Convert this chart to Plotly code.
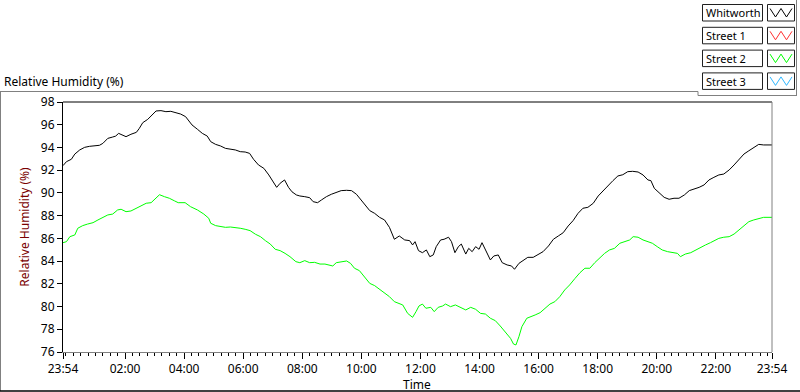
import plotly.graph_objects as go

# ---------------- data ----------------
series_names = ["Whitworth", "Street 1", "Street 2", "Street 3"]
series_colors = ["#000000", "#ff3030", "#00ff00", "#30b8ff"]

# minutes since 23:54 (start of record)
whitworth_min = [0, 7, 17, 24, 34, 44, 54, 64, 74, 81, 91, 101, 107, 113, 118, 128, 138, 149, 155, 162,
                 172, 182, 189, 199, 209, 219, 229, 239, 249, 256, 262, 273, 283, 293, 300, 310, 320, 330,
                 340, 350, 360, 370, 379, 387, 397, 408, 418, 428, 434, 441, 450, 458, 465, 474, 481, 491,
                 501, 508, 517, 525, 535, 545, 555, 565, 576, 586, 596, 606, 615, 623, 633, 643, 653, 663,
                 673, 683, 694, 704, 710, 715, 722, 730, 738, 745, 752, 758, 767, 774, 783, 789, 796, 803,
                 809, 818, 824, 831, 838, 845, 851, 859, 868, 875, 884, 892, 902, 911, 917, 926, 936, 944,
                 955, 965, 975, 986, 996, 1006, 1016, 1026, 1036, 1046, 1056, 1066, 1077, 1087, 1097, 1107,
                 1117, 1127, 1137, 1147, 1157, 1168, 1178, 1188, 1194, 1201, 1211, 1221, 1231, 1241, 1251,
                 1262, 1272, 1282, 1292, 1302, 1312, 1322, 1332, 1342, 1353, 1363, 1373, 1383, 1393, 1403,
                 1413, 1423, 1440]
whitworth_rh = [92.4, 92.75, 92.96, 93.42, 93.78, 94.01, 94.1, 94.13, 94.19, 94.36, 94.8, 94.92, 95.0, 95.24,
                95.12, 94.95, 95.16, 95.33, 95.68, 96.18, 96.47, 96.92, 97.21, 97.24, 97.15, 97.18, 97.06,
                96.94, 96.71, 96.27, 95.98, 95.6, 95.24, 95.0, 94.51, 94.27, 94.13, 93.92, 93.84, 93.78,
                93.63, 93.6, 93.48, 92.96, 92.46, 92.16, 91.58, 90.85, 90.49, 90.85, 91.14, 90.49, 90.1,
                89.82, 89.73, 89.67, 89.58, 89.23, 89.14, 89.38, 89.67, 89.88, 90.02, 90.2, 90.23, 90.2,
                89.88, 89.38, 88.85, 88.44, 88.2, 87.85, 87.62, 86.97, 85.92, 86.21, 85.86, 85.8, 85.42,
                85.71, 84.92, 84.74, 84.98, 84.39, 84.54, 85.27, 85.86, 85.92, 86.1, 85.71, 84.74, 85.27,
                85.5, 84.62, 85.12, 84.83, 85.27, 85.04, 85.62, 84.83, 84.1, 84.45, 84.54, 83.86, 83.66,
                83.57, 83.28, 83.8, 84.1, 84.33, 84.33, 84.62, 84.83, 85.33, 85.92, 86.21, 86.5, 87.09,
                87.56, 88.2, 88.65, 88.73, 89.09, 89.73, 90.2, 90.61, 91.08, 91.49, 91.6, 91.87, 91.9,
                91.84, 91.58, 91.14, 91.08, 90.4, 90.02, 89.61, 89.44, 89.53, 89.53, 89.82, 90.2, 90.32,
                90.49, 90.7, 91.14, 91.37, 91.58, 91.66, 92.02, 92.46, 92.96, 93.42, 93.71, 93.98, 94.27,
                94.22, 94.22]

street2_min = [0, 7, 14, 24, 30, 40, 50, 61, 71, 81, 91, 101, 111, 118, 128, 138, 148, 159, 169, 179, 189,
               196, 206, 216, 226, 234, 248, 259, 273, 286, 296, 300, 310, 320, 330, 340, 350, 360, 370, 380,
               391, 401, 411, 421, 431, 441, 451, 461, 473, 481, 491, 501, 511, 522, 532, 538, 548, 555, 565,
               576, 584, 592, 602, 612, 623, 633, 643, 653, 663, 673, 683, 690, 700, 710, 717, 723, 730, 737,
               747, 754, 762, 771, 777, 787, 797, 808, 818, 828, 838, 848, 858, 868, 878, 888, 898, 909, 915,
               920, 926, 932, 942, 951, 959, 969, 979, 989, 999, 1009, 1019, 1029, 1040, 1050, 1060, 1070,
               1080, 1090, 1100, 1110, 1120, 1131, 1141, 1151, 1158, 1168, 1178, 1188, 1197, 1207, 1217, 1228,
               1238, 1248, 1254, 1264, 1275, 1285, 1295, 1305, 1315, 1325, 1332, 1342, 1353, 1363, 1373, 1383,
               1393, 1403, 1413, 1423, 1440]
street2_rh = [85.62, 85.71, 86.15, 86.3, 86.89, 87.12, 87.26, 87.38, 87.62, 87.85, 88.06, 88.14, 88.5, 88.56,
              88.35, 88.41, 88.65, 88.85, 89.09, 89.14, 89.53, 89.84, 89.67, 89.53, 89.31, 89.14, 89.14,
              88.79, 88.5, 88.14, 87.77, 87.33, 87.12, 87.03, 86.97, 87.0, 86.97, 86.89, 86.8, 86.68, 86.36,
              86.15, 85.8, 85.5, 85.04, 84.92, 84.68, 84.39, 83.95, 83.86, 84.04, 83.86, 83.89, 83.74, 83.74,
              83.66, 83.57, 83.86, 83.95, 84.01, 83.8, 83.37, 83.16, 82.63, 82.04, 81.84, 81.52, 81.22, 80.87,
              80.43, 80.22, 80.14, 79.4, 79.05, 79.55, 80.05, 80.22, 79.85, 79.93, 79.55, 79.93, 80.05, 80.22,
              79.99, 80.14, 79.93, 79.7, 79.93, 79.76, 79.4, 79.34, 78.97, 78.76, 78.29, 77.79, 77.2, 76.7,
              76.62, 77.35, 78.23, 78.97, 79.11, 79.26, 79.46, 79.85, 80.22, 80.43, 80.87, 81.46, 81.9, 82.48,
              82.98, 83.37, 83.37, 83.86, 84.25, 84.68, 84.98, 85.12, 85.57, 85.71, 85.86, 86.15, 86.1, 85.86,
              85.71, 85.57, 85.27, 84.98, 84.83, 84.74, 84.68, 84.39, 84.62, 84.74, 84.98, 85.21, 85.42, 85.62,
              85.86, 86.0, 86.1, 86.15, 86.38, 86.74, 87.18, 87.47, 87.62, 87.77, 87.85, 87.85]

x_tick_min = [0, 126, 246, 366, 486, 606, 726, 846, 966, 1086, 1206, 1326, 1440]
x_tick_labels = ["23:54", "02:00", "04:00", "06:00", "08:00", "10:00", "12:00",
                 "14:00", "16:00", "18:00", "20:00", "22:00", "23:54"]
x_minor_min = list(range(6, 1440, 15))
y_ticks = [76, 78, 80, 82, 84, 86, 88, 90, 92, 94, 96, 98]

# ---------------- layout geometry ----------------
W, H = 800, 392
L, R, T, B = 63, 28, 102, 40
PW, PH = W - L - R, H - T - B


def px(x):
    return (x - L) / PW


def py(y):
    return 1 - (y - T) / PH


FONT = "Noto Sans"

fig = go.Figure()
fig.add_trace(go.Scatter(x=whitworth_min, y=whitworth_rh, mode="lines", name=series_names[0],
                         line=dict(color=series_colors[0], width=1), showlegend=False))
fig.add_trace(go.Scatter(x=street2_min, y=street2_rh, mode="lines", name=series_names[2],
                         line=dict(color=series_colors[2], width=1), showlegend=False))

shapes = []
annotations = []
# plot frame: top black, right gray
shapes.append(dict(type="line", xref="paper", yref="paper", x0=0, x1=1, y0=1, y1=1,
                   line=dict(color="#000000", width=1)))
shapes.append(dict(type="line", xref="paper", yref="paper", x0=1, x1=1, y0=0, y1=1,
                   line=dict(color="#808080", width=1)))
# outer panel lines
shapes.append(dict(type="line", xref="paper", yref="paper", x0=px(0), x1=px(698), y0=py(91.5), y1=py(91.5),
                   line=dict(color="#808080", width=1)))
shapes.append(dict(type="line", xref="paper", yref="paper", x0=px(698), x1=px(698), y0=py(91.5), y1=py(95.5),
                   line=dict(color="#808080", width=1)))
shapes.append(dict(type="line", xref="paper", yref="paper", x0=px(698), x1=px(797), y0=py(95.5), y1=py(95.5),
                   line=dict(color="#808080", width=1)))
shapes.append(dict(type="line", xref="paper", yref="paper", x0=px(796.5), x1=px(796.5), y0=py(0), y1=py(95.5),
                   line=dict(color="#808080", width=1)))
shapes.append(dict(type="line", xref="paper", yref="paper", x0=px(0.5), x1=px(0.5), y0=py(91.5), y1=py(391),
                   line=dict(color="#808080", width=1)))
shapes.append(dict(type="line", xref="paper", yref="paper", x0=px(0), x1=px(800), y0=py(391), y1=py(391),
                   line=dict(color="#000000", width=1.5)))

# custom legend
for i, (name, col) in enumerate(zip(series_names, series_colors)):
    y0 = 4.5 + i * 22.8
    y1 = y0 + 16.5
    shapes.append(dict(type="rect", xref="paper", yref="paper", x0=px(702.5), x1=px(762.5), y0=py(y1), y1=py(y0),
                       line=dict(color="#202020", width=1), fillcolor="white"))
    shapes.append(dict(type="rect", xref="paper", yref="paper", x0=px(767.5), x1=px(794.5), y0=py(y1), y1=py(y0),
                       line=dict(color="#202020", width=1), fillcolor="white"))
    zx = [770, 775.5, 781, 786.5, 792]
    zy = [y0 + 4, y1 - 4, y0 + 4, y1 - 4, y0 + 4]
    path = "M " + " L ".join(f"{px(a)},{py(b)}" for a, b in zip(zx, zy))
    shapes.append(dict(type="path", xref="paper", yref="paper", path=path,
                       line=dict(color=col, width=1)))
    annotations.append(dict(text=name, xref="paper", yref="paper", x=px(703.5), y=py((y0 + y1) / 2),
                            xanchor="left", yanchor="middle", showarrow=False,
                            font=dict(family=FONT, size=11, color="#000000")))

annotations.append(dict(text="Relative Humidity (%)", xref="paper", yref="paper", x=px(2), y=py(82),
                        xanchor="left", yanchor="middle", showarrow=False,
                        font=dict(family=FONT, size=12, color="#000000")))
annotations.append(dict(text="Time", xref="paper", yref="paper", x=px(417), y=py(384.5),
                        xanchor="center", yanchor="middle", showarrow=False,
                        font=dict(family=FONT, size=12, color="#000000")))

fig.update_layout(
    width=W, height=H,
    margin=dict(l=L, r=R, t=T, b=B, pad=0),
    paper_bgcolor="white", plot_bgcolor="white",
    font=dict(family=FONT, size=12, color="#000000"),
    shapes=shapes, annotations=annotations,
    showlegend=False,
    xaxis=dict(range=[0, 1440], tickmode="array", tickvals=x_tick_min, ticktext=x_tick_labels,
               showgrid=False, zeroline=False, showline=True, linecolor="#808080", linewidth=1,
               ticks="outside", ticklen=6, tickcolor="#000000", tickwidth=1, ticklabelstandoff=0,
               minor=dict(tickmode="array", tickvals=x_minor_min, ticks="outside", ticklen=3,
                          tickcolor="#000000", tickwidth=1, showgrid=False),
               tickfont=dict(family=FONT, size=12, color="#000000"), fixedrange=True),
    yaxis=dict(range=[76, 98], tickmode="array", tickvals=y_ticks,
               showgrid=False, zeroline=False, showline=True, linecolor="#000000", linewidth=1,
               ticks="outside", ticklen=5, tickcolor="#000000", tickwidth=1,
               title=dict(text="Relative Humidity (%)", font=dict(family=FONT, size=12, color="#7a0000"),
                          standoff=8),
               tickfont=dict(family=FONT, size=12, color="#000000"), fixedrange=True),
)

fig.write_html("out.html", config={"displayModeBar": False},
               post_script="document.body.style.margin='0';document.body.style.overflow='hidden';")
